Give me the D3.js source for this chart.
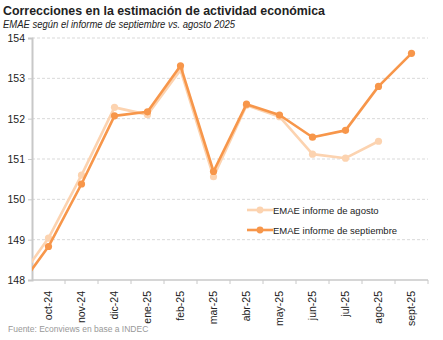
<!DOCTYPE html>
<html>
<head>
<meta charset="utf-8">
<script src="https://d3js.org/d3.v7.min.js"></script>
<style>
    body { margin: 0; background: #fff; }
    svg text { font-family: Tahoma, "Liberation Sans", Arial, sans-serif; }
    .grid line { stroke: #d9d9d9; stroke-dasharray: 3,2; }
    .line { fill: none; stroke-width: 2.6; stroke-linejoin: round; }
</style>
</head>
<body>
<svg id="chart"></svg>
<script>
    // months shown on the axis
    let months = ['oct-24','nov-24','dic-24','ene-25','feb-25','mar-25','abr-25','may-25','jun-25','jul-25','ago-25','sept-25'];
    // EMAE, informe de septiembre
    let informeSep = [148.83, 150.38, 152.07, 152.17, 153.31, 150.69, 152.36, 152.09, 151.54, 151.71, 152.80, 153.62];
    // EMAE, informe de agosto (ends in ago-25)
    let informeAgo = [149.04, 150.60, 152.28, 152.10, 153.21, 150.56, 152.33, 152.05, 151.12, 151.02, 151.44];
    // sep-24 values, the line comes in from the left edge
    let prevSep = 147.70;
    let prevAgo = 147.89;
    let yTicks = [148, 149, 150, 151, 152, 153, 154];

    let width = 443, height = 340;
    let margin = {top: 38, bottom: 60, left: 32, right: 15};
    let bodyWidth = width - margin.left - margin.right;
    let bodyHeight = height - margin.top - margin.bottom;

    let svg = d3.select('#chart').attr('width', width).attr('height', height);

    svg.append('text').attr('x', 3).attr('y', 15)
        .attr('font-size', 13).attr('font-weight', 'bold').attr('fill', '#222')
        .attr('textLength', 322).attr('lengthAdjust', 'spacingAndGlyphs')
        .text('Correcciones en la estimación de actividad económica');
    svg.append('text').attr('x', 3).attr('y', 28)
        .attr('font-size', 10).attr('font-style', 'italic').attr('fill', '#222')
        .attr('textLength', 232).attr('lengthAdjust', 'spacingAndGlyphs')
        .text('EMAE según el informe de septiembre vs. agosto 2025');
    svg.append('text').attr('x', 8).attr('y', 332)
        .attr('font-size', 8.5).attr('fill', '#999')
        .text('Fuente: Econviews en base a INDEC');

    let xScale = d3.scaleBand().domain(months).range([0, bodyWidth]);
    let yScale = d3.scaleLinear().domain([148, 154]).range([bodyHeight, 0]);
    let step = xScale.step();
    let cx = d => xScale(d) + step / 2;

    let body = svg.append('g').attr('transform', `translate(${margin.left},${margin.top})`);

    body.append('clipPath').attr('id', 'plotClip')
        .append('rect').attr('x', 0).attr('y', -10).attr('width', bodyWidth).attr('height', bodyHeight + 10);

    // dashed gridlines
    body.append('g').attr('class', 'grid')
        .selectAll('line').data(yTicks.slice(1)).enter().append('line')
        .attr('x1', 0).attr('x2', bodyWidth)
        .attr('y1', d => yScale(d)).attr('y2', d => yScale(d));

    // y axis
    let axisY = d3.axisLeft(yScale).tickValues(yTicks).tickSize(4).tickFormat(d3.format('d'));
    let gy = body.append('g').call(axisY);
    gy.select('.domain').attr('stroke', '#c8c8c8').attr('stroke-width', 2);
    gy.selectAll('.tick line').attr('stroke', '#c8c8c8');
    gy.selectAll('.tick text').attr('font-size', 10.5).attr('fill', '#222')
        .attr('font-family', 'Tahoma, "Liberation Sans", Arial, sans-serif').attr('x', -7);

    // x axis, ticks between months
    let gx = body.append('g').attr('transform', `translate(0,${bodyHeight})`);
    gx.append('line').attr('x1', 0).attr('x2', bodyWidth).attr('stroke', '#c8c8c8').attr('stroke-width', 1.5);
    gx.selectAll('.tk').data(months).enter().append('line').attr('class', 'tk')
        .attr('x1', d => xScale(d) + step).attr('x2', d => xScale(d) + step)
        .attr('y1', 0).attr('y2', 4).attr('stroke', '#c8c8c8');
    gx.selectAll('.lbl').data(months).enter().append('text').attr('class', 'lbl')
        .attr('transform', d => `translate(${cx(d) + 3.5},11) rotate(-90)`)
        .attr('text-anchor', 'end').attr('font-size', 10.5).attr('fill', '#222')
        .text(d => d);

    function drawSeries(values, prev, color) {
        let pts = values.map((v, i) => ({x: cx(months[i]), y: yScale(v)}));
        let linePts = [{x: -step / 2, y: yScale(prev)}].concat(pts);
        let line = d3.line().x(d => d.x).y(d => d.y);
        body.append('path').datum(linePts).attr('class', 'line')
            .attr('clip-path', 'url(#plotClip)')
            .attr('stroke', color).attr('d', line);
        body.append('g').selectAll('circle').data(pts).enter().append('circle')
            .attr('cx', d => d.x).attr('cy', d => d.y).attr('r', 3.6).attr('fill', color);
    }

    let colorAgo = '#fcd3b0';
    let colorSep = '#f7964a';
    drawSeries(informeAgo, prevAgo, colorAgo);
    drawSeries(informeSep, prevSep, colorSep);

    // legend
    let legend = svg.append('g').attr('transform', 'translate(247,210)');
    [['EMAE informe de agosto', colorAgo], ['EMAE informe de septiembre', colorSep]].forEach((s, i) => {
        let g = legend.append('g').attr('transform', `translate(0,${i * 20})`);
        g.append('line').attr('x1', 0).attr('x2', 26).attr('stroke', s[1]).attr('stroke-width', 2.6);
        g.append('circle').attr('cx', 13).attr('r', 3.4).attr('fill', s[1]);
        g.append('text').attr('x', 26).attr('y', 3.5).attr('font-size', 9.5).attr('fill', '#222').text(s[0]);
    });
</script>
</body>
</html>
